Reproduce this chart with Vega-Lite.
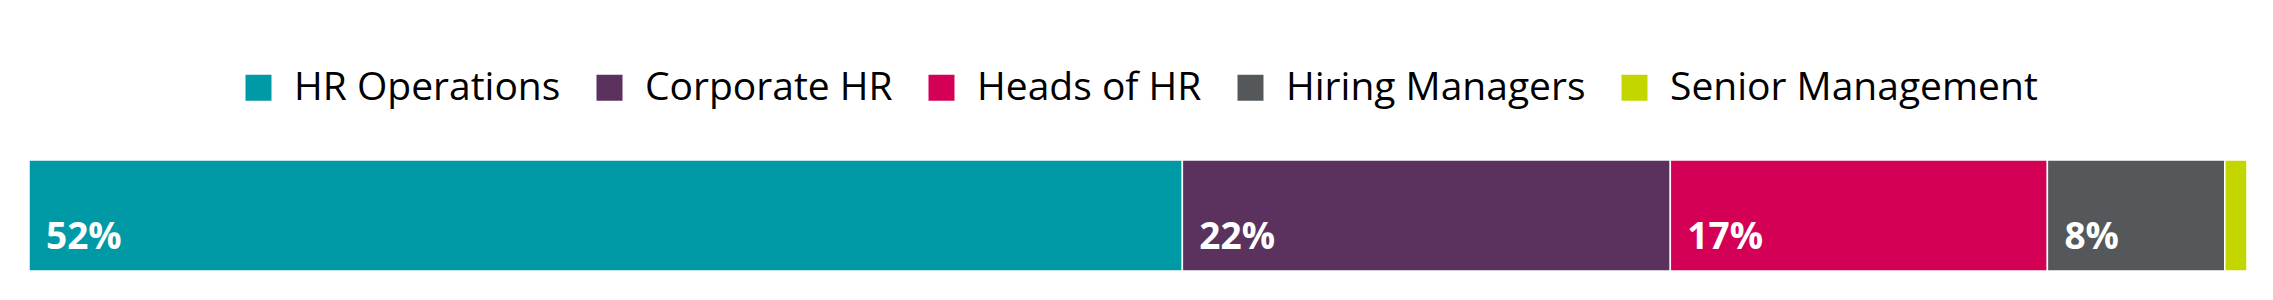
{
  "$schema": "https://vega.github.io/schema/vega-lite/v6.json",
  "width": 2218,
  "height": 111,
  "autosize": {"type": "none"},
  "padding": {"left": 29, "top": 160, "right": 26, "bottom": 29},
  "background": "white",
  "config": {"view": {"stroke": null}, "font": "Open Sans"},
  "data": {
    "values": [
      {"group": "all", "role": "HR Operations", "order": 1, "share": 0.52},
      {"group": "all", "role": "Corporate HR", "order": 2, "share": 0.22},
      {"group": "all", "role": "Heads of HR", "order": 3, "share": 0.17},
      {"group": "all", "role": "Hiring Managers", "order": 4, "share": 0.08},
      {"group": "all", "role": "Senior Management", "order": 5, "share": 0.01}
    ]
  },
  "encoding": {
    "y": {"field": "group", "type": "nominal", "axis": null, "scale": {"paddingInner": 0, "paddingOuter": 0}}
  },
  "layer": [
    {
      "mark": {"type": "bar", "stroke": "white", "strokeWidth": 1.5},
      "encoding": {
        "x": {"field": "share", "type": "quantitative", "stack": "zero", "axis": null, "scale": {"domain": [0, 1], "nice": false}},
        "color": {
          "field": "role",
          "type": "nominal",
          "sort": ["HR Operations", "Corporate HR", "Heads of HR", "Hiring Managers", "Senior Management"],
          "scale": {
            "domain": ["HR Operations", "Corporate HR", "Heads of HR", "Hiring Managers", "Senior Management"],
            "range": ["#009AA6", "#5B325E", "#D40056", "#55585A", "#C4D600"]
          },
          "legend": {
            "orient": "none",
            "legendX": 210,
            "legendY": -92,
            "direction": "horizontal",
            "title": null,
            "symbolType": "square",
            "symbolSize": 676,
            "symbolStrokeWidth": 0,
            "symbolOpacity": 1,
            "labelFontSize": 39,
            "labelFont": "Open Sans",
            "labelColor": "black",
            "labelLimit": 600,
            "labelOffset": 16,
            "columnPadding": 29
          }
        },
        "order": {"field": "order", "type": "quantitative"}
      }
    },
    {
      "transform": [
        {"stack": "share", "groupby": ["group"], "sort": [{"field": "order"}], "as": ["s0", "s1"]},
        {"filter": "datum.share >= 0.05"}
      ],
      "mark": {"type": "text", "align": "left", "baseline": "alphabetic", "dx": 17, "dy": 33, "fontWeight": "bold", "fontSize": 37, "color": "white", "font": "Open Sans"},
      "encoding": {
        "x": {"field": "s0", "type": "quantitative"},
        "text": {"field": "share", "type": "quantitative", "format": ".0%"}
      }
    }
  ]
}
